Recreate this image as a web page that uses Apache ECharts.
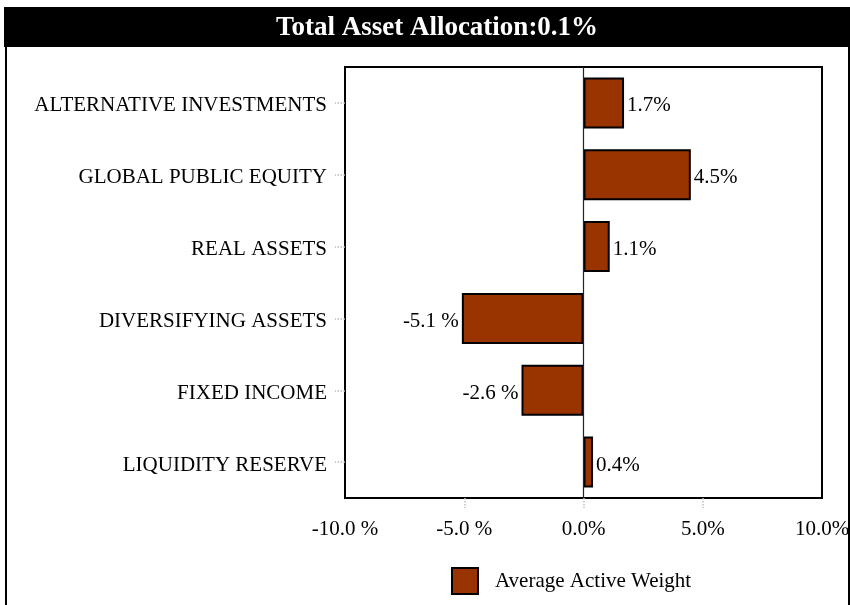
<!DOCTYPE html>
<html>
<head>
<meta charset="utf-8">
<script src="https://cdn.jsdelivr.net/npm/echarts@6/dist/echarts.min.js"></script>
<style>
html,body{margin:0;padding:0;background:#fff;}
#chart{width:850px;height:605px;}
</style>
</head>
<body>
<div id="chart"></div>
<script>
const titleText = 'Total Asset Allocation:0.1%';
const categories = ['ALTERNATIVE INVESTMENTS','GLOBAL PUBLIC EQUITY','REAL ASSETS','DIVERSIFYING ASSETS','FIXED INCOME','LIQUIDITY RESERVE'];
const values = [1.7, 4.5, 1.1, -5.1, -2.6, 0.4];
const seriesName = 'Average Active Weight';
const xTickValues = [-10, -5, 0, 5, 10];
const xTickLabels = ['-10.0 %', '-5.0 %', '0.0%', '5.0%', '10.0%'];

const FONT = 'Liberation Serif';
const FS = 21;
const chart = echarts.init(document.getElementById('chart'), null, {renderer:'canvas'});

function fmtVal(v){ return v < 0 ? v.toFixed(1) + ' %' : v.toFixed(1) + '%'; }

const option = {
  animation:false,
  backgroundColor:'#fff',
  textStyle:{fontFamily:FONT},
  graphic:[
    {type:'rect', shape:{x:4, y:7, width:846, height:40}, style:{fill:'#000'}, z:0},
    {type:'text', x:437, y:28, style:{text:titleText, fill:'#fff', font:'bold 27px "Liberation Serif"', textAlign:'center', textVerticalAlign:'middle'}, z:1},
    {type:'rect', shape:{x:5, y:46, width:2, height:560}, style:{fill:'#000'}},
    {type:'rect', shape:{x:848, y:46, width:2, height:560}, style:{fill:'#000'}}
  ],
  grid:{left:345, right:28, top:67, bottom:107, outerBoundsMode:'none', containLabel:false, show:true, borderColor:'#000', borderWidth:2, backgroundColor:'#fff'},
  legend:{
    left:446, top:562,
    icon:'rect', itemWidth:26, itemHeight:26,
    itemStyle:{borderColor:'#000', borderWidth:2},
    textStyle:{fontFamily:FONT, fontSize:FS, color:'#000', padding:[0,0,0,12]},
    data:[seriesName]
  },
  xAxis:{
    type:'value', min:-10, max:10, interval:5,
    axisLine:{show:false},
    splitLine:{show:false},
    axisTick:{show:true, length:10, customValues:[-5,0,5], lineStyle:{color:'#bbb', type:'dotted', width:1.5}},
    axisLabel:{
      fontFamily:FONT, fontSize:FS, color:'#000', margin:21,
      formatter:function(v){ const i = xTickValues.indexOf(v); return i>=0 ? xTickLabels[i] : ''; }
    }
  },
  yAxis:{
    type:'category', inverse:true, data:categories,
    axisLine:{show:false, onZero:false},
    axisTick:{show:true, length:10, alignWithLabel:true, lineStyle:{color:'#bbb', type:'dotted', width:1.5}},
    axisLabel:{
      fontFamily:FONT, fontSize:FS, color:'#000', margin:18,
      formatter:function(v){ return '{c|' + v + '}'; },
      rich:{c:{fontFamily:FONT, fontSize:FS, color:'#000', padding:[6,0,0,0]}}
    }
  },
  series:[{
    name:seriesName, type:'bar', barCategoryGap:'29%',
    itemStyle:{color:'#993300', borderColor:'#000', borderWidth:2},
    data: values.map(v => ({
      value:v,
      label:{show:true, position: v<0 ? 'left':'right', distance:3, offset:[0,3], formatter:fmtVal(v), fontFamily:FONT, fontSize:FS, color:'#000'}
    })),
    markLine:{
      silent:true, symbol:'none', label:{show:false},
      lineStyle:{color:'#222', type:'solid', width:1.2},
      data:[{xAxis:0}]
    },
    z:2
  }]
};
chart.setOption(option);
</script>
</body>
</html>
